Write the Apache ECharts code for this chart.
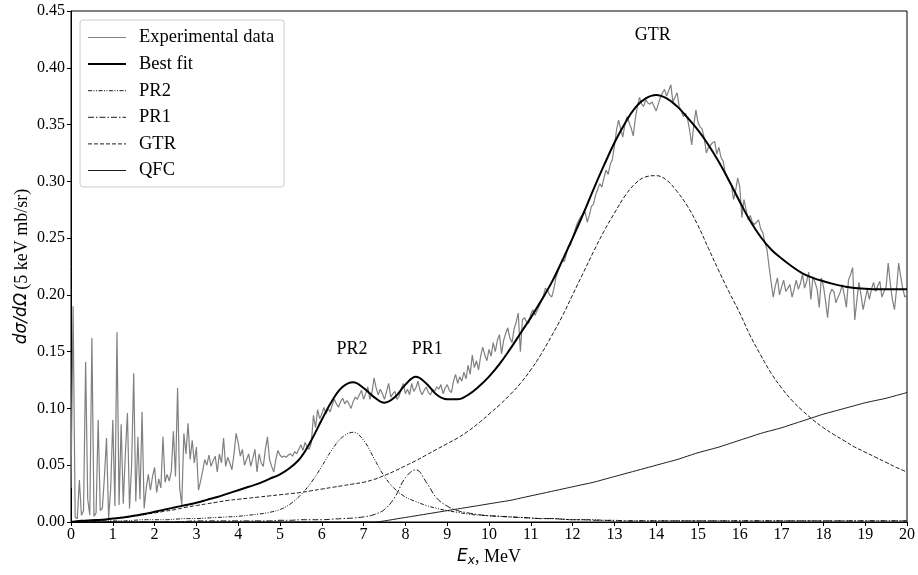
<!DOCTYPE html>
<html>
<head>
<meta charset="utf-8">
<script src="https://cdn.jsdelivr.net/npm/echarts@6/dist/echarts.min.js"></script>
<style>
html,body{margin:0;padding:0;background:#fff;}
#chart{width:918px;height:575px;}
</style>
</head>
<body>
<div id="chart"></div>
<script>
// ---- data ----
const expStep = 0.05; // MeV per experimental point (energy grid)
const expValues = [
0.030,0.190,0.004,0.003,0.037,0.006,0.010,0.141,0.020,0.006,0.162,0.005,0.008,0.090,0.010,0.012,0.040,0.074,0.003,0.030,
0.090,0.014,0.167,0.015,0.086,0.016,0.060,0.096,0.012,0.050,0.131,0.018,0.075,0.020,0.097,0.012,0.030,0.042,0.028,0.040,
0.048,0.026,0.038,0.030,0.075,0.035,0.042,0.036,0.045,0.080,0.040,0.118,0.030,0.015,0.078,0.060,0.087,0.055,0.072,0.052,
0.066,0.028,0.036,0.045,0.055,0.050,0.059,0.049,0.054,0.058,0.044,0.060,0.052,0.074,0.049,0.057,0.052,0.046,0.060,0.078,
0.070,0.058,0.064,0.050,0.055,0.060,0.049,0.056,0.064,0.044,0.060,0.052,0.049,0.064,0.075,0.055,0.049,0.044,0.055,0.063,
0.059,0.057,0.058,0.057,0.059,0.060,0.058,0.062,0.060,0.064,0.068,0.063,0.070,0.066,0.064,0.070,0.094,0.083,0.099,0.091,
0.095,0.101,0.095,0.100,0.097,0.103,0.108,0.104,0.101,0.106,0.109,0.104,0.107,0.104,0.100,0.106,0.110,0.108,0.112,0.116,
0.108,0.113,0.119,0.108,0.114,0.127,0.118,0.112,0.117,0.113,0.108,0.115,0.122,0.110,0.113,0.115,0.108,0.111,0.117,0.122,
0.113,0.117,0.112,0.122,0.115,0.118,0.124,0.116,0.112,0.116,0.119,0.114,0.112,0.117,0.115,0.119,0.117,0.121,0.113,0.118,
0.121,0.116,0.114,0.124,0.130,0.122,0.128,0.124,0.132,0.126,0.138,0.130,0.147,0.136,0.142,0.134,0.146,0.154,0.147,0.142,
0.152,0.146,0.158,0.150,0.160,0.165,0.148,0.160,0.166,0.171,0.162,0.158,0.170,0.176,0.184,0.150,0.178,0.180,0.176,0.175,
0.183,0.187,0.182,0.186,0.190,0.194,0.199,0.206,0.204,0.200,0.198,0.205,0.215,0.221,0.226,0.231,0.229,0.236,0.243,0.244,
0.250,0.256,0.262,0.266,0.269,0.271,0.273,0.264,0.270,0.278,0.280,0.288,0.293,0.298,0.295,0.303,0.310,0.306,0.315,0.319,
0.331,0.345,0.354,0.346,0.339,0.350,0.357,0.352,0.347,0.340,0.355,0.366,0.374,0.368,0.366,0.372,0.369,0.368,0.370,0.366,
0.362,0.368,0.374,0.378,0.381,0.375,0.380,0.385,0.370,0.374,0.378,0.366,0.362,0.357,0.360,0.355,0.345,0.332,0.350,0.363,
0.352,0.348,0.346,0.338,0.325,0.330,0.332,0.334,0.335,0.324,0.330,0.321,0.318,0.308,0.304,0.300,0.297,0.284,0.292,0.303,
0.295,0.268,0.284,0.275,0.266,0.270,0.264,0.262,0.264,0.266,0.258,0.255,0.246,0.240,0.225,0.211,0.198,0.208,0.215,0.200,
0.207,0.213,0.203,0.206,0.209,0.198,0.205,0.213,0.205,0.210,0.218,0.206,0.212,0.220,0.196,0.216,0.211,0.205,0.189,0.215,
0.208,0.195,0.180,0.200,0.205,0.203,0.193,0.198,0.202,0.209,0.200,0.189,0.213,0.218,0.224,0.178,0.195,0.211,0.200,0.187,
0.196,0.205,0.196,0.205,0.211,0.203,0.208,0.212,0.198,0.203,0.207,0.228,0.210,0.196,0.187,0.205,0.228,0.216,0.205,0.198,
0.200
];

const fitStep = 0.25; // MeV per fitted-curve point
const bestFit = [
0.000,0.001,0.0015,0.002,0.003, 0.004,0.0055,0.007,0.009, 0.011,0.013,0.015,0.017, 0.0195,0.022,0.025,0.028,
0.031,0.034,0.038,0.042, 0.048,0.057,0.072,0.090, 0.107,0.119,0.123,0.118, 0.110,0.105,0.110,0.121,
0.128,0.122,0.112,0.108, 0.108,0.112,0.119,0.128, 0.139,0.152,0.166,0.180, 0.195,0.211,0.230,0.250,
0.271,0.293,0.314,0.334, 0.351,0.365,0.373,0.376, 0.373,0.366,0.356,0.345, 0.332,0.317,0.300,0.282,
0.265,0.251,0.240,0.232, 0.225,0.219,0.215,0.212, 0.2095,0.2075,0.206,0.2055, 0.205,0.205,0.205,0.205
];
const pr2 = [
0.000,0.000,0.0005,0.001,0.001, 0.001,0.0015,0.002,0.002, 0.002,0.0025,0.003,0.003, 0.0035,0.004,0.0045,0.005,
0.006,0.007,0.0085,0.011, 0.016,0.024,0.035,0.049, 0.064,0.075,0.079,0.072, 0.056,0.040,0.029,0.022,
0.018,0.0145,0.012,0.010, 0.0085,0.007,0.006,0.0055, 0.005,0.0045,0.004,0.0035, 0.003,0.003,0.0025,0.002,
0.002,0.002,0.0015,0.0015, 0.001,0.001,0.001,0.001, 0.001,0.001,0.001,0.001, 0.001,0.001,0.001,0.001,
0.001,0.001,0.001,0.001, 0.001,0.001,0.001,0.001, 0.001,0.001,0.001,0.001, 0.001,0.001,0.001,0.001
];
const pr1 = [
0.000,0.000,0.000,0.000,0.000, 0.000,0.000,0.000,0.000, 0.000,0.000,0.0005,0.001, 0.001,0.001,0.001,0.001,
0.001,0.001,0.001,0.0015, 0.0015,0.002,0.002,0.002, 0.0025,0.003,0.0035,0.0045, 0.0065,0.011,0.022,0.039,
0.046,0.035,0.021,0.014, 0.010,0.008,0.0065,0.0055, 0.005,0.0045,0.004,0.0035, 0.003,0.003,0.0025,0.002,
0.002,0.0015,0.0015,0.001, 0.001,0.001,0.001,0.001, 0.001,0.001,0.001,0.001, 0.001,0.001,0.001,0.001,
0.001,0.001,0.001,0.001, 0.001,0.001,0.001,0.001, 0.001,0.001,0.001,0.001, 0.001,0.001,0.001,0.001
];
const gtr = [
0.000,0.001,0.0015,0.002,0.003, 0.004,0.005,0.0065,0.008, 0.0095,0.011,0.013,0.0145, 0.016,0.0175,0.019,0.020,
0.021,0.022,0.023,0.024, 0.025,0.026,0.0275,0.029, 0.0305,0.032,0.0335,0.035, 0.0375,0.041,0.045,0.0495,
0.054,0.059,0.064,0.069, 0.074,0.080,0.087,0.095, 0.103,0.112,0.122,0.134, 0.148,0.164,0.181,0.200,
0.219,0.238,0.256,0.272, 0.287,0.298,0.304,0.305, 0.301,0.291,0.278,0.261, 0.241,0.221,0.202,0.184,
0.164,0.147,0.131,0.118, 0.107,0.098,0.090,0.083, 0.077,0.0715,0.066,0.0615, 0.057,0.0525,0.048,0.044
];
const qfc = [
0.000,0.000,0.000,0.000,0.000, 0.000,0.000,0.000,0.000, 0.000,0.000,0.000,0.000, 0.000,0.000,0.000,0.000,
0.000,0.000,0.000,0.000, 0.000,0.000,0.000,0.000, 0.000,0.000,0.000,0.000, 0.000,0.001,0.0025,0.004,
0.0055,0.007,0.0085,0.010, 0.0115,0.013,0.0145,0.016, 0.0175,0.019,0.021,0.023, 0.025,0.027,0.029,0.031,
0.033,0.035,0.0375,0.040, 0.0425,0.045,0.0475,0.050, 0.0525,0.055,0.058,0.061, 0.0635,0.066,0.069,0.072,
0.075,0.078,0.0805,0.083, 0.086,0.089,0.092,0.095, 0.0975,0.100,0.1025,0.105, 0.107,0.109,0.1115,0.114
];
const xTicks = {min: 0, max: 20, interval: 1};
const yTicks = {min: 0, max: 0.45, interval: 0.05};
const annotations = [
  {name: 'PR2', e: 6.72, v: 0.1525},
  {name: 'PR1', e: 8.52, v: 0.1525},
  {name: 'GTR', e: 13.92, v: 0.4285}
];
const seriesNames = ['Experimental data', 'Best fit', 'PR2', 'PR1', 'GTR', 'QFC'];

// ---- build ----
const toPairs = (arr, step) => arr.map((v, i) => [+(i * step).toFixed(3), v]);
const serif = 'Liberation Serif';
const mathFont = 'DejaVu Sans';

const chart = echarts.init(document.getElementById('chart'), null, {renderer: 'canvas'});

function lineSeries(name, data, color, width, type, smooth, z) {
  return {
    name, type: 'line', data, symbol: 'none', showSymbol: false,
    smooth: smooth,
    lineStyle: {color, width, type}, itemStyle: {color},
    z, animation: false, silent: true
  };
}

const option = {
  animation: false,
  backgroundColor: '#fff',
  grid: {left: 71, right: 11, top: 11, bottom: 53, show: true, borderColor: '#000', borderWidth: 1, containLabel: false},
  legend: {
    data: seriesNames,
    orient: 'vertical',
    left: 80, top: 20,
    itemWidth: 38, itemHeight: 14, itemGap: 7.6,
    padding: [8, 10, 7, 7],
    borderColor: '#cccccc', borderWidth: 1, borderRadius: 3,
    backgroundColor: 'rgba(255,255,255,0.8)',
    itemStyle: {opacity: 0, borderWidth: 0},
    lineStyle: {width: 'inherit'},
    textStyle: {fontFamily: serif, fontSize: 18.5, color: '#000', padding: [0, 0, 0, 8]},
    selectedMode: false
  },
  xAxis: {
    type: 'value', min: xTicks.min, max: xTicks.max, interval: xTicks.interval,
    axisLine: {show: true, lineStyle: {color: '#000', width: 1}},
    axisTick: {show: true, length: 4, lineStyle: {color: '#000'}},
    axisLabel: {fontFamily: serif, fontSize: 16, color: '#000', margin: 5},
    splitLine: {show: false},
    name: '{i|E}{s|x}{n|, MeV}',
    nameLocation: 'middle', nameGap: 21,
    nameTextStyle: {
      rich: {
        i: {fontFamily: mathFont, fontStyle: 'italic', fontSize: 17, color: '#000'},
        s: {fontFamily: mathFont, fontStyle: 'italic', fontSize: 12, color: '#000', padding: [8, 0, 0, 0]},
        n: {fontFamily: serif, fontSize: 18, color: '#000'}
      }
    }
  },
  yAxis: {
    type: 'value', min: yTicks.min, max: yTicks.max, interval: yTicks.interval,
    axisLine: {show: true, lineStyle: {color: '#000', width: 1}},
    axisTick: {show: true, length: 4, lineStyle: {color: '#000'}},
    axisLabel: {fontFamily: serif, fontSize: 16, color: '#000', margin: 6, formatter: v => v.toFixed(2)},
    splitLine: {show: false},
    name: '{i|dσ/dΩ} {n|(5 keV mb/sr)}',
    nameLocation: 'middle', nameGap: 40, nameRotate: 90,
    nameMoveOverlap: false,
    nameTextStyle: {
      rich: {
        i: {fontFamily: mathFont, fontStyle: 'italic', fontSize: 17, color: '#000'},
        n: {fontFamily: serif, fontSize: 18, color: '#000'}
      }
    }
  },
  series: [
    lineSeries(seriesNames[0], toPairs(expValues, expStep), '#808080', 1.2, 'solid', false, 2),
    Object.assign(lineSeries(seriesNames[1], toPairs(bestFit, fitStep), '#000', 2, 'solid', 0.4, 6), {
      markPoint: {
        symbol: 'circle', symbolSize: 1,
        itemStyle: {color: 'rgba(0,0,0,0)'},
        label: {show: true, position: 'inside', formatter: p => p.name, fontFamily: serif, fontSize: 18, color: '#000'},
        data: annotations.map(a => ({name: a.name, coord: [a.e, a.v]}))
      }
    }),
    lineSeries(seriesNames[2], toPairs(pr2, fitStep), '#000', 0.9, [4, 1.5, 1, 1.5, 1, 1.5], 0.4, 4),
    lineSeries(seriesNames[3], toPairs(pr1, fitStep), '#000', 0.9, [6, 2, 1.5, 2], 0.4, 4),
    lineSeries(seriesNames[4], toPairs(gtr, fitStep), '#000', 0.9, [4, 2], 0.4, 4),
    lineSeries(seriesNames[5], toPairs(qfc, fitStep), '#000', 0.9, 'solid', 0.4, 4)
  ]
};
chart.setOption(option);
</script>
</body>
</html>
